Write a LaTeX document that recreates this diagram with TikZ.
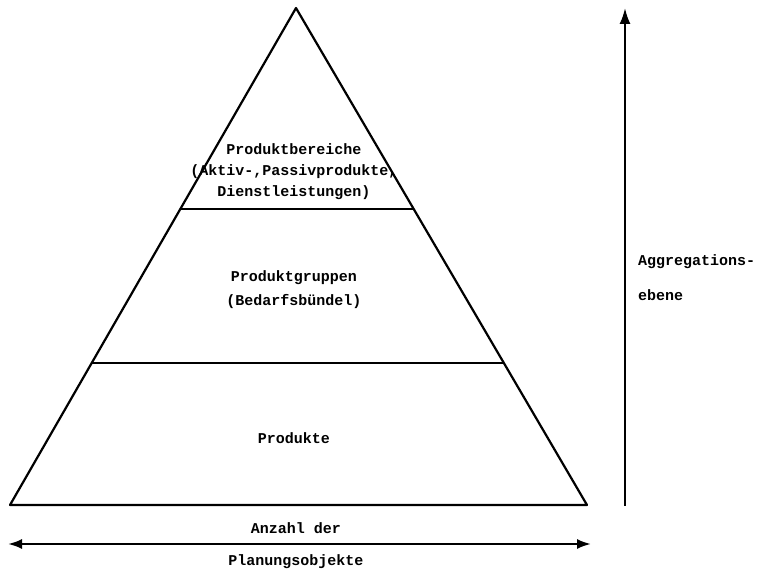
\documentclass[tikz,border=0pt]{standalone}
\usepackage{fontspec}
\setmonofont{Liberation Mono}
\usetikzlibrary{calc,arrows.meta}
\begin{document}
\begin{tikzpicture}[x=1pt,y=-1pt,
  line/.style={line width=2.2pt, line join=round},
  lbl/.style={font=\ttfamily\bfseries\fontsize{15}{21}\selectfont, inner sep=0pt, align=center},
  arr/.style={line width=2.2pt, -{Latex[length=16pt,width=11pt]}},
  darr/.style={line width=2.2pt, {Latex[length=14pt,width=10pt]}-{Latex[length=14pt,width=10pt]}}]
\useasboundingbox (0,0) rectangle (764,569);
\coordinate (apex) at (296,8);
\coordinate (bl) at (10,505);
\coordinate (br) at (587,505);
\draw[line] (apex) -- (bl) -- (br) -- cycle;
\coordinate (d1l) at ($(apex)!0.4044!(bl)$);
\coordinate (d1r) at ($(apex)!0.4044!(br)$);
\coordinate (d2l) at ($(apex)!0.714!(bl)$);
\coordinate (d2r) at ($(apex)!0.714!(br)$);
\draw[line] (d1l) -- (d1r);
\draw[line] (d2l) -- (d2r);
\node[lbl] (t1) at (294,172) {Produktbereiche\\(Aktiv-,Passivprodukte,\\Dienstleistungen)};
\node[lbl, font=\ttfamily\bfseries\fontsize{15}{24}\selectfont] (t2) at (294,290) {Produktgruppen\\(Bedarfsbündel)};
\node[lbl] (t3) at (294,438) {Produkte};
\coordinate (hl) at (8,544);
\coordinate (hr) at (591,544);
\draw[darr] (hl) -- (hr);
\node[lbl] (a1) at (296,528) {Anzahl der};
\node[lbl] (a2) at (296,562) {Planungsobjekte};
\coordinate (vb) at (625,506);
\coordinate (vt) at (625,8);
\draw[arr] (vb) -- (vt);
\node[lbl, anchor=west] (g1) at (638,262) {Aggregations-};
\node[lbl, anchor=west] (g2) at (638,295) {ebene};
\end{tikzpicture}
\end{document}
